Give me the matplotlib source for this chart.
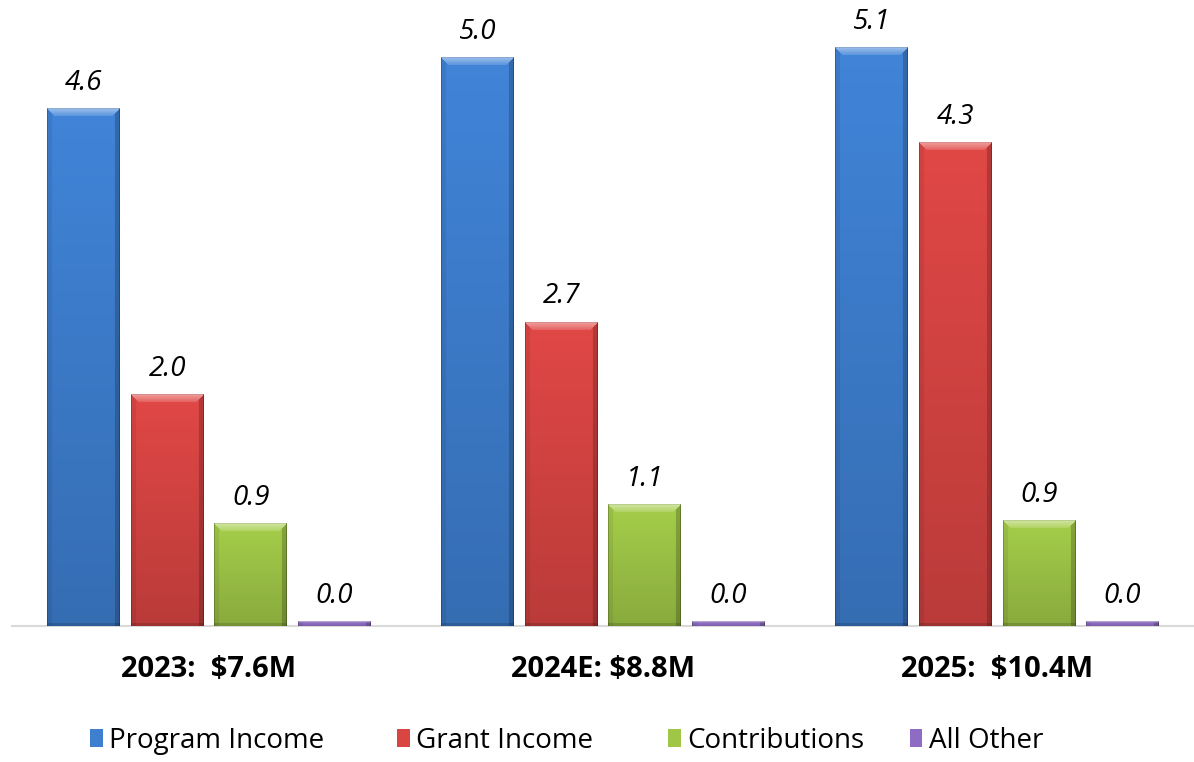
import numpy as np
import matplotlib
matplotlib.use("Agg")
import matplotlib.pyplot as plt
from matplotlib.colors import to_rgb

plt.rcParams['font.family'] = ['Open Sans', 'DejaVu Sans']

# data ($M)
groups = ['2023:  $7.6M', '2024E: $8.8M', '2025:  $10.4M']
series = ['Program Income', 'Grant Income', 'Contributions', 'All Other']
program_income = [4.56, 5.01, 5.10]
grant_income = [2.04, 2.68, 4.26]
contributions = [0.90, 1.07, 0.93]
all_other = [0.04, 0.04, 0.04]
colors = ['#3e7fd0', '#d84543', '#9fc647', '#8f6cc4']

values = [program_income, grant_income, contributions, all_other]

fig = plt.figure(figsize=(11.94, 7.62), dpi=100)
ax = fig.add_axes([0.01, 0.1785, 0.99, 0.8215])

x = np.arange(len(groups))
step = 0.212
width = 0.184
offsets = (np.arange(len(series)) - 1.5) * step

ax.set_xlim(-0.5, 2.5)
ax.set_ylim(0, 5.52)

def bevel_img(color, wpx, hpx):
    c = np.array(to_rgb(color))
    wpx = max(int(wpx), 2)
    hpx = max(int(hpx), 2)
    rows = np.arange(hpx)[:, None] * np.ones((1, wpx))
    cols = np.arange(wpx)[None, :] * np.ones((hpx, 1))
    # vertical shading, lighter at top
    vf = 1.04 - 0.18 * rows / hpx
    img = c[None, None, :] * vf[..., None]
    b = min(8, hpx // 3)
    top = (rows < b) & (rows <= cols) & (rows <= wpx - 1 - cols)
    left = (cols < 5) & ~top
    right = (cols >= wpx - 5) & ~top
    bottom = (rows >= hpx - 3) & (hpx > 10)
    img[left] = img[left] * 0.93
    img[right] = img[right] * 0.80
    img[bottom] = img[bottom] * 0.85
    tf = 0.35 * (1 - rows[top] / max(b, 1))
    img[top] = img[top] + (1 - img[top]) * (0.12 + tf)[:, None]
    # thin outline
    img[:, 0] *= 0.8
    img[:, -1] *= 0.75
    img[0, :] *= 0.9
    return np.clip(img, 0, 1)

handles = []
fig.canvas.draw()
for k, (name, vals, col) in enumerate(zip(series, values, colors)):
    bars = ax.bar(x + offsets[k], vals, width, color=col, label=name,
                  edgecolor='none', zorder=2)
    handles.append(bars)
    for rect, v in zip(bars, vals):
        x0, y0 = rect.get_x(), rect.get_y()
        w, h = rect.get_width(), rect.get_height()
        p0 = ax.transData.transform((x0, y0))
        p1 = ax.transData.transform((x0 + w, y0 + h))
        img = bevel_img(col, p1[0] - p0[0], p1[1] - p0[1])
        ax.imshow(img, extent=(x0, x0 + w, y0, y0 + h), aspect='auto',
                  zorder=3, interpolation='bilinear')
        ax.text(x0 + w / 2, v + 0.165, f'{v:.1f}', ha='center', va='baseline',
                fontsize=20, style='italic', color='black', zorder=4)

ax.set_xlim(-0.5, 2.5)
ax.set_ylim(0, 5.52)

ax.set_xticks(x)
ax.set_xticklabels(groups, fontsize=21, fontweight='bold')
ax.tick_params(axis='x', length=0, pad=21)
ax.set_yticks([])
for s in ['top', 'left', 'right']:
    ax.spines[s].set_visible(False)
ax.spines['bottom'].set_color('#d9d9d9')
ax.spines['bottom'].set_linewidth(1.5)

# legend entries, one per series, at the positions seen in the chart
leg_x = [0.0754, 0.3325, 0.5595, 0.7621]
for h, name, lx in zip(handles, series, leg_x):
    fig.legend(handles=[h], labels=[name], loc='center left',
               bbox_to_anchor=(lx, 0.0276), frameon=False, fontsize=20,
               handlelength=0.45, handleheight=0.65, handletextpad=0.25,
               borderpad=0, borderaxespad=0)

plt.savefig('out.png', dpi=100)
